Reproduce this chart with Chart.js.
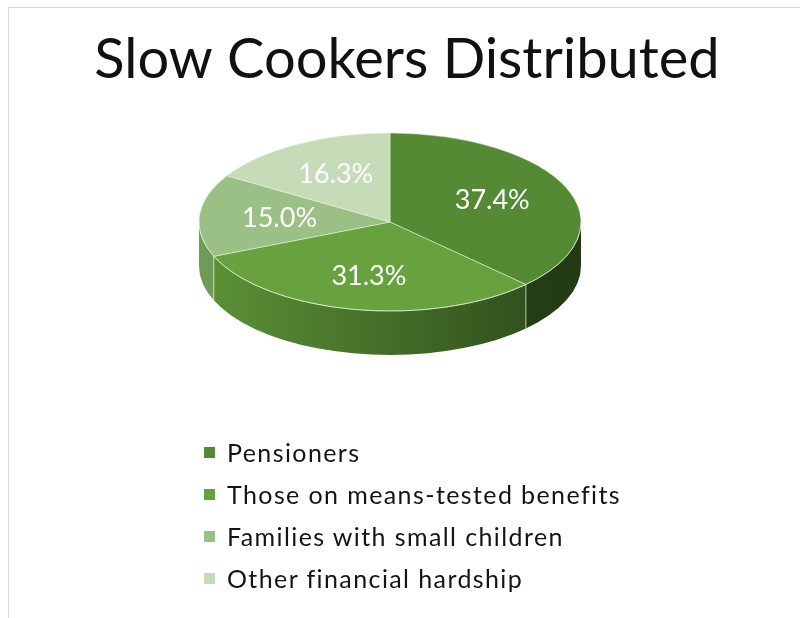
<!DOCTYPE html>
<html>
<head>
<meta charset="utf-8">
<script src="https://cdn.jsdelivr.net/npm/chart.js@4.4.1/dist/chart.umd.min.js"></script>
<style>
  html, body { margin: 0; padding: 0; background: #fff; }
  #wrap { position: relative; width: 800px; height: 618px; overflow: hidden; }
  #frame { position: absolute; left: 8px; top: 7px; width: 800px; height: 620px;
           border-left: 1px solid #d9d9d9; border-top: 1px solid #d9d9d9; }
  canvas { position: absolute; left: 0; top: 0; }
  #legend { position: absolute; left: 204px; top: 431px; list-style: none; margin: 0; padding: 0;
            font-family: Lato, sans-serif; font-size: 25px; letter-spacing: 1.4px; color: #141414; }
  #legend li { height: 42px; display: flex; align-items: center; }
  #legend .box { width: 11px; height: 11px; margin-right: 12px; display: inline-block; }
</style>
</head>
<body>
<div id="wrap">
  <div id="frame"></div>
  <canvas id="pie" width="800" height="618"></canvas>
  <ul id="legend"></ul>
</div>
<script>
// data
const categories = ['Pensioners', 'Those on means-tested benefits', 'Families with small children', 'Other financial hardship'];
const shares = [37.4, 31.3, 15.0, 16.3];
const topColors = ['#558a35', '#68a23e', '#9bc086', '#c6dbb8'];
// side wall colours, left -> right
const sideColors = [['#33531f', '#233a14'], ['#5d9337', '#2b4719'], ['#6f9a58', '#5d8649'], ['#a9c59a', '#8fae80']];

// look of the fake 3d
const centerX = 390;
const centerY = 222;
const radius = 191;
const squash = 0.466;
const depth = 44;

const pie3d = {
  id: 'pie3d',
  beforeDatasetsDraw(chart) {
    const ctx = chart.ctx;
    const arcs = chart.getDatasetMeta(0).data;
    const r = arcs[0].outerRadius;
    const ry = r * squash;

    // side walls, only the front half (0..PI) is seen
    arcs.forEach((arc, i) => {
      const lo = Math.max(arc.startAngle, 0);
      const hi = Math.min(arc.endAngle, Math.PI);
      if (hi <= lo) return;
      const g = ctx.createLinearGradient(centerX - r, 0, centerX + r, 0);
      g.addColorStop(0, sideColors[i][0]);
      g.addColorStop(1, sideColors[i][1]);
      ctx.beginPath();
      ctx.ellipse(centerX, centerY, r, ry, 0, lo, hi);
      ctx.lineTo(centerX + r * Math.cos(hi), centerY + ry * Math.sin(hi) + depth);
      ctx.ellipse(centerX, centerY + depth, r, ry, 0, hi, lo, true);
      ctx.closePath();
      ctx.fillStyle = g;
      ctx.fill();
    });
    // seams on the side
    ctx.strokeStyle = 'rgba(230,240,220,0.7)';
    ctx.lineWidth = 1;
    arcs.forEach(arc => {
      const a = arc.startAngle;
      if (a > 0 && a < Math.PI) {
        const x = centerX + r * Math.cos(a);
        const y = centerY + ry * Math.sin(a);
        ctx.beginPath();
        ctx.moveTo(x, y);
        ctx.lineTo(x, y + depth);
        ctx.stroke();
      }
    });

    // squash the top face
    ctx.save();
    ctx.translate(centerX, centerY);
    ctx.scale(1, squash);
    ctx.translate(-arcs[0].x, -arcs[0].y);
  },
  afterDatasetsDraw(chart) {
    const ctx = chart.ctx;
    ctx.restore();
    const arcs = chart.getDatasetMeta(0).data;
    const r = arcs[0].outerRadius;
    const ry = r * squash;

    // light front rim
    ctx.beginPath();
    ctx.ellipse(centerX, centerY, r, ry, 0, 0, Math.PI);
    ctx.strokeStyle = 'rgba(225,240,215,0.6)';
    ctx.lineWidth = 1;
    ctx.stroke();

    // percentage labels
    const total = shares.reduce((a, b) => a + b, 0);
    ctx.fillStyle = '#ffffff';
    ctx.font = '27px Lato, sans-serif';
    ctx.textAlign = 'center';
    ctx.textBaseline = 'middle';
    arcs.forEach((arc, i) => {
      const mid = (arc.startAngle + arc.endAngle) / 2;
      const x = centerX + r * 0.58 * Math.cos(mid);
      const y = centerY + ry * 0.62 * Math.sin(mid);
      ctx.fillText((shares[i] / total * 100).toFixed(1) + '%', x, y);
    });
  }
};

new Chart(document.getElementById('pie'), {
  type: 'pie',
  data: {
    labels: categories,
    datasets: [{
      data: shares,
      backgroundColor: topColors,
      borderColor: 'rgba(235,245,225,0.7)',
      borderWidth: 1,
      radius: radius,
      clip: false
    }]
  },
  options: {
    responsive: false,
    animation: false,
    events: [],
    layout: { padding: { left: 14 } },
    plugins: {
      legend: { display: false },
      tooltip: { enabled: false },
      title: {
        display: true,
        text: 'Slow Cookers Distributed',
        color: '#111111',
        font: { family: 'Lato', size: 56, weight: 'normal' },
        padding: { top: 26, bottom: 10 }
      }
    }
  },
  plugins: [pie3d]
});

// legend list
const legend = document.getElementById('legend');
categories.forEach((name, i) => {
  const li = document.createElement('li');
  const box = document.createElement('span');
  box.className = 'box';
  box.style.background = topColors[i];
  li.appendChild(box);
  li.appendChild(document.createTextNode(name));
  legend.appendChild(li);
});
</script>
</body>
</html>
